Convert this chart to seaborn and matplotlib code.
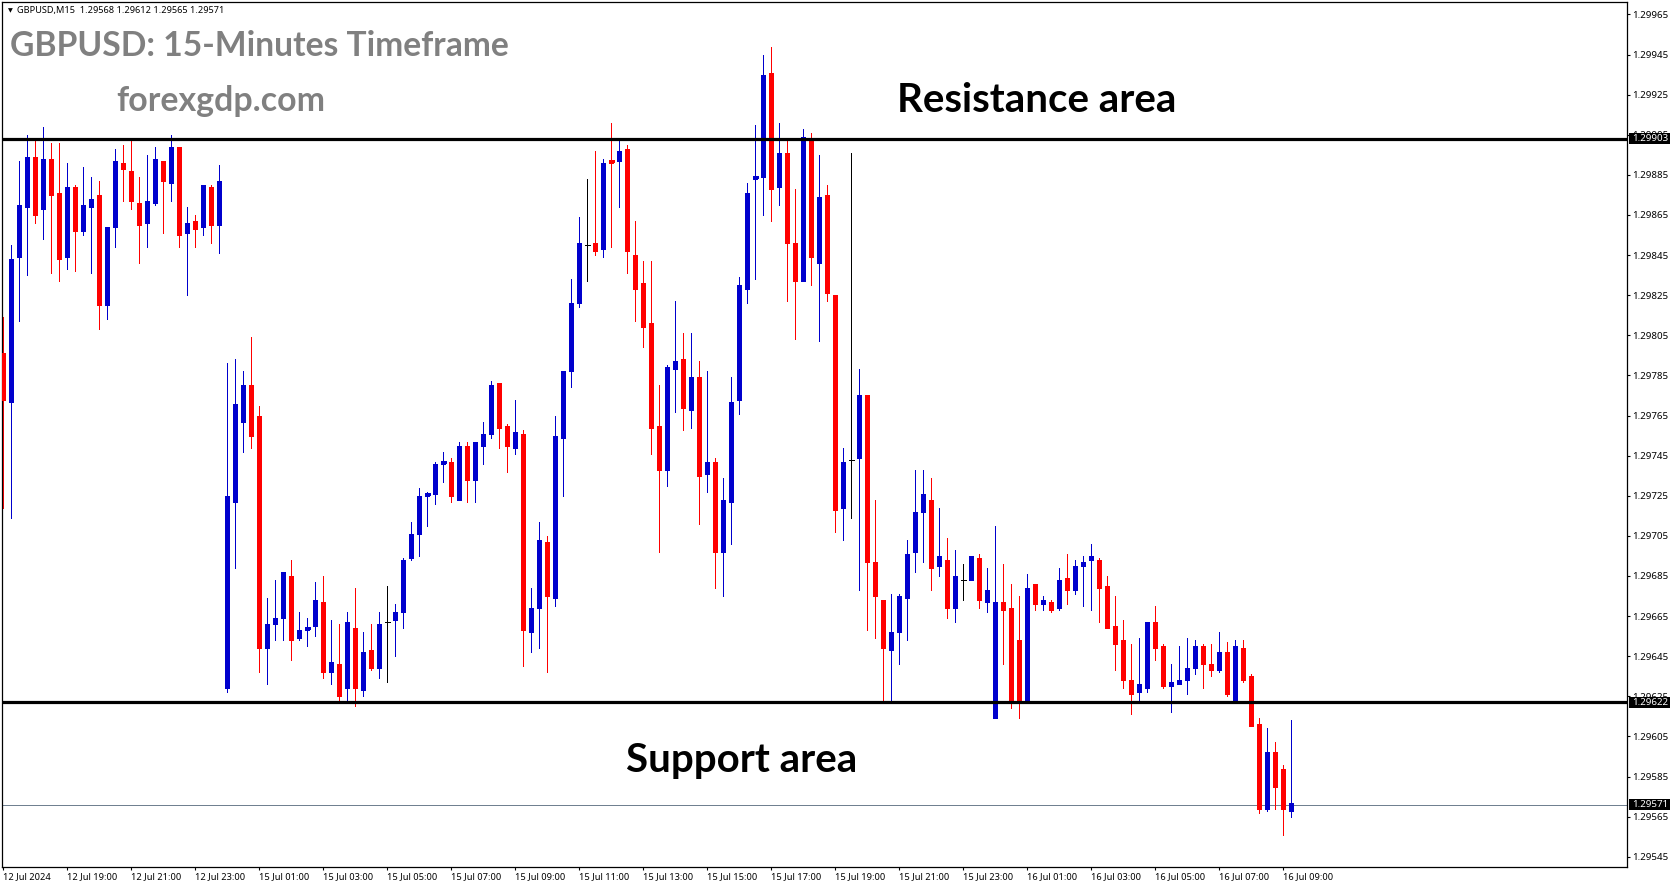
import matplotlib
matplotlib.use("Agg")
import matplotlib.pyplot as plt
from matplotlib.patches import Rectangle
import numpy as np
import pandas as pd
import seaborn as sns

W, H = 1673, 888

# Prices in points (1e-5)
highs = [129814,129850,129892,129905,129903,129909,129901,129901,129891,129880,
129889,129884,129882,129859,129898,129900,129902,129884,129895,129899,
129892,129905,129899,129869,129865,129880,129880,129890,129791,129793,
129787,129804,129770,129674,129683,129687,129693,129667,129664,129682,
129685,129663,129661,129667,129679,129657,129661,129667,129680,129671,
129694,129712,129729,129727,129742,129747,129744,129752,129752,129752,
129762,129782,129781,129761,129773,129758,129679,129712,129705,129765,
129787,129833,129864,129883,129897,129893,129911,129903,129900,129862,
129842,129842,129780,129790,129822,129806,129806,129792,129787,129744,
129734,129784,129834,129881,129910,129945,129949,129911,129903,129878,
129908,129906,129895,129880,129825,129749,129896,129788,129775,129723,
129673,129676,129676,129703,129738,129738,129734,129719,129704,129698,
129691,129695,129696,129689,129710,129691,129681,129675,129686,129681,
129675,129673,129689,129696,129693,129695,129701,129694,129685,129675,
129663,129651,129654,129662,129670,129651,129641,129650,129654,129653,
129651,129651,129657,129652,129653,129653,129636,129614,129609,129602,
129591,129613]

body_tops = [129796,129843,129870,129894,129894,129893,129893,129876,129879,129879,
129870,129873,129875,129859,129892,129891,129887,129871,129872,129893,
129892,129899,129899,129861,129862,129880,129879,129882,129725,129771,
129780,129780,129765,129661,129664,129687,129685,129658,129659,129673,
129672,129642,129641,129662,129659,129647,129648,129661,129662,129667,
129693,129706,129725,129726,129741,129742,129742,129750,129750,129752,
129756,129780,129781,129760,129757,129756,129669,129703,129702,129755,
129787,129821,129851,129850,129851,129891,129892,129897,129898,129845,
129831,129811,129760,129789,129792,129793,129784,129784,129742,129742,
129723,129772,129830,129876,129884,129935,129936,129896,129896,129851,
129904,129903,129874,129875,129825,129742,129743,129775,129775,129692,
129673,129657,129675,129696,129717,129726,129723,129695,129693,129685,
129683,129695,129694,129678,129672,129672,129669,129653,129679,129681,
129673,129672,129683,129684,129690,129692,129695,129693,129680,129660,
129653,129633,129631,129662,129662,129650,129632,129633,129639,129650,
129650,129641,129647,129647,129650,129649,129635,129611,129597,129597,
129589,129572]

body_bottoms = [129773,129772,129844,129869,129865,129868,129875,129843,129844,129857,
129857,129869,129820,129820,129859,129888,129872,129860,129861,129871,
129882,129881,129855,129856,129858,129859,129860,129860,129629,129722,
129762,129755,129649,129649,129661,129664,129653,129654,129658,129660,
129637,129637,129625,129629,129629,129628,129639,129639,129662,129663,
129667,129694,129706,129725,129726,129741,129725,129723,129733,129733,
129750,129756,129759,129750,129749,129658,129657,129669,129675,129674,
129754,129787,129821,129850,129847,129848,129891,129892,129847,129828,
129809,129759,129738,129738,129788,129769,129768,129735,129736,129697,
129697,129722,129773,129828,129883,129884,129878,129879,129851,129832,
129832,129844,129841,129826,129718,129719,129743,129744,129692,129675,
129649,129648,129657,129674,129697,129717,129689,129690,129669,129669,
129683,129683,129673,129672,129614,129668,129623,129623,129623,129671,
129671,129668,129669,129678,129678,129690,129693,129679,129659,129651,
129633,129626,129627,129629,129649,129630,129630,129631,129633,129639,
129641,129638,129638,129626,129623,129633,129610,129569,129569,129580,
129569,129568]

lows = [129719,129714,129812,129835,129861,129853,129836,129832,129838,129837,
129855,129836,129808,129813,129849,129872,129868,129841,129849,129870,
129856,129872,129849,129825,129849,129855,129851,129846,129627,129689,
129747,129749,129637,129631,129653,129653,129643,129653,129650,129655,
129634,129631,129622,129623,129620,129625,129638,129634,129632,129645,
129659,129693,129695,129710,129721,129732,129722,129723,129722,129722,
129741,129754,129749,129737,129746,129640,129647,129649,129637,129670,
129725,129779,129819,129832,129845,129844,129849,129869,129836,129812,
129799,129746,129697,129730,129767,129758,129759,129711,129727,129679,
129675,129701,129766,129821,129833,129865,129862,129870,129822,129803,
129832,129830,129802,129822,129707,129703,129714,129678,129658,129654,
129622,129623,129641,129653,129687,129692,129678,129685,129664,129662,
129673,129683,129669,129667,129614,129641,129619,129614,129623,129668,
129668,129667,129668,129671,129676,129670,129668,129662,129659,129638,
129629,129616,129623,129627,129643,129629,129617,129631,129626,129636,
129629,129635,129637,129625,129623,129632,129610,129567,129568,129569,
129556,129565]

sides = ("rbbbrbrrbr" "bbrbbrrrbb" "rbrbrbrbbb" "brrbbbrbbb" "rbrbrbrbdb"
         "bbbbbbrbrb" "bbrrbrbbrb" "bbbdrbrbrr" "rrrbbrbrbr" "bbbbbbrbrr"
         "brbrrbdbrr" "rbbbbbrbrb" "dbrbbrrrbr" "brbrbbbrrr" "rrbbrrbbbb"
         "rrbrbrrrbr" "rb")

resistance = 1.29903
support = 1.29622
last_close = 1.29571

y_ticks = [1.29965,1.29945,1.29925,1.29905,1.29885,1.29865,1.29845,1.29825,1.29805,
           1.29785,1.29765,1.29745,1.29725,1.29705,1.29685,1.29665,1.29645,1.29625,
           1.29605,1.29585,1.29565,1.29545]
x_labels = ["12 Jul 2024","12 Jul 19:00","12 Jul 21:00","12 Jul 23:00","15 Jul 01:00",
            "15 Jul 03:00","15 Jul 05:00","15 Jul 07:00","15 Jul 09:00","15 Jul 11:00",
            "15 Jul 13:00","15 Jul 15:00","15 Jul 17:00","15 Jul 19:00","15 Jul 21:00",
            "15 Jul 23:00","16 Jul 01:00","16 Jul 03:00","16 Jul 05:00","16 Jul 07:00",
            "16 Jul 09:00"]
label_step = 8

palette = {"b": "#0000CD", "r": "#FF0000", "d": "#000000"}

sns.set_theme(style="white")
plt.rcParams["font.family"] = ["Noto Sans", "DejaVu Sans"]

n = len(highs)
bars = np.arange(n)
wick_df = pd.DataFrame({
    "bar": np.repeat(bars, 2),
    "price": np.ravel(np.column_stack([highs, lows])) / 1e5,
    "side": np.repeat(list(sides), 2),
})
body_df = pd.DataFrame({
    "bar": np.repeat(bars, 2),
    "price": np.ravel(np.column_stack([body_tops, body_bottoms])) / 1e5,
    "side": np.repeat(list(sides), 2),
})
body_df = body_df[body_df["side"] != "d"]

fig = plt.figure(figsize=(W / 100, H / 100), dpi=100, facecolor="white")
ax = fig.add_axes([2.3 / W, 1 - 867 / H, 1625 / W, 865 / H])
ax.set_facecolor("white")

sns.lineplot(data=wick_df, x="bar", y="price", hue="side", units="bar", estimator=None,
             palette=palette, linewidth=0.72, legend=False, sort=False, ax=ax,
             antialiased=False, solid_capstyle="butt", zorder=2)
sns.lineplot(data=body_df, x="bar", y="price", hue="side", units="bar", estimator=None,
             palette=palette, linewidth=3.6, legend=False, sort=False, ax=ax,
             antialiased=False, solid_capstyle="butt", zorder=3)

for i, s in enumerate(sides):
    if s == "d":
        ax.hlines(body_tops[i] / 1e5, i - 0.31, i + 0.31, color="black", linewidth=0.72,
                  antialiased=False, zorder=3)
    elif body_tops[i] - body_bottoms[i] < 2:
        ax.hlines(body_tops[i] / 1e5, i - 0.31, i + 0.31, color=palette[s], linewidth=2.0,
                  antialiased=False, zorder=3)

ax.axhline(resistance, color="black", linewidth=2.3, zorder=4)
ax.axhline(support, color="black", linewidth=2.3, zorder=4)
ax.axhline(last_close, color="#708090", linewidth=0.72, zorder=1.5)

ax.set_xlim((2.3 - 3.33) / 8, (1627.3 - 3.33) / 8)
ax.set_ylim(1.29539900, 1.29971200)

ax.set_xlabel("")
ax.set_ylabel("")
ax.yaxis.tick_right()
ax.set_yticks(y_ticks)
ax.set_yticklabels([f"{v:.5f}" for v in y_ticks])
ax.set_xticks(np.arange(len(x_labels)) * label_step)
ax.set_xticklabels(x_labels, ha="left")
ax.tick_params(axis="y", which="major", right=True, length=2.2, width=0.8, color="black",
               labelsize=7, pad=1.4, labelcolor="black")
ax.tick_params(axis="x", which="major", bottom=True, length=2.2, width=0.8, color="black",
               labelsize=6.7, pad=1.5, labelcolor="black")
for sp in ax.spines.values():
    sp.set_visible(True)
    sp.set_color("black")
    sp.set_linewidth(0.9)

# Price tags on the right scale
tr = ax.get_yaxis_transform()
for level in (resistance, support, last_close):
    ax.add_patch(Rectangle((1.0012, level - 5.3 * 0.4987e-5), 41 / 1625, 10.6 * 0.4987e-5,
                           transform=tr, facecolor="black", edgecolor="none",
                           clip_on=False, zorder=6))
    ax.text(1 + 5.2 / 1625, level, f"{level:.5f}", transform=tr, color="white", fontsize=7,
            va="center", ha="left", clip_on=False, zorder=7)


def label(x, y, s, **kw):
    fig.text(x / W, 1 - y / H, s, **kw)


label(7.5, 10.5, "\u25BC", fontsize=4.5, va="center", ha="left", color="black",
      family=["DejaVu Sans"])
label(17, 10, "GBPUSD,M15  1.29568 1.29612 1.29565 1.29571", fontsize=6.6, va="center",
      ha="left", color="black")
label(10.5, 46, "GBPUSD: 15-Minutes Timeframe", fontsize=24.2, fontweight="bold",
      family=["Lato", "DejaVu Sans"], color="#808080", va="center", ha="left")
label(116, 101, "forexgdp.com", fontsize=24.4, fontweight="bold",
      family=["Lato", "DejaVu Sans"], color="#808080", va="center", ha="left")
label(897, 101, "Resistance area", fontsize=29, fontweight="bold",
      family=["Lato", "DejaVu Sans"], color="black", va="center", ha="left")
label(626, 760, "Support area", fontsize=29, fontweight="bold",
      family=["Lato", "DejaVu Sans"], color="black", va="center", ha="left")

fig.savefig("out.png", dpi=100, facecolor="white")
